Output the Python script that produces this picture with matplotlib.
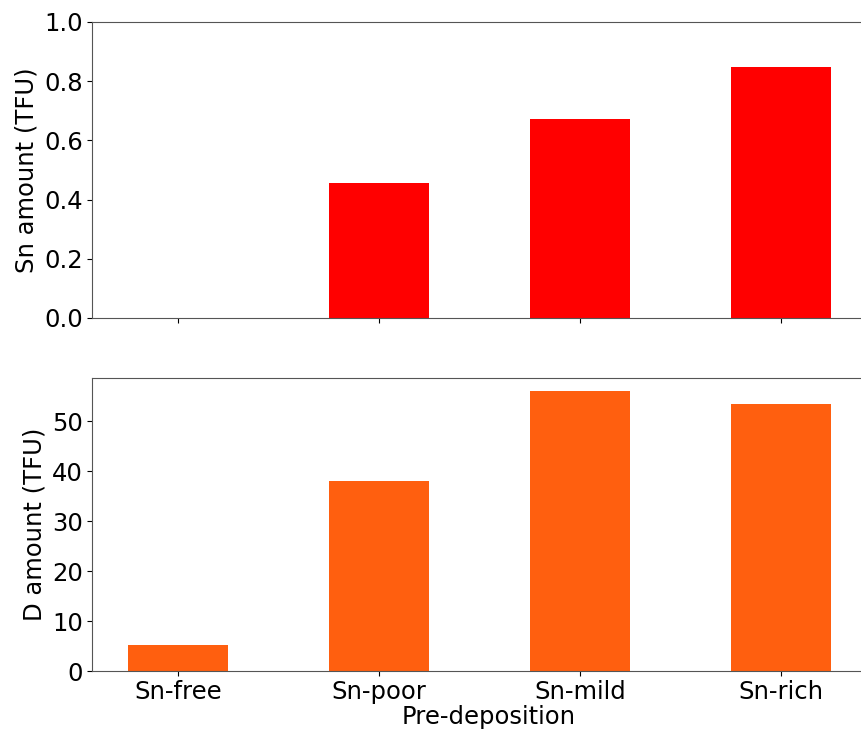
import matplotlib
matplotlib.use("Agg")
import matplotlib.pyplot as plt
import numpy as np

categories = ["Sn-free", "Sn-poor", "Sn-mild", "Sn-rich"]
sn_amount = [0.0, 0.456, 0.672, 0.848]
d_amount = [5.3, 38.0, 56.0, 53.4]

plt.rcParams['font.size'] = 17.5

fig = plt.figure(figsize=(8.62, 7.32), dpi=100)
ax1 = fig.add_axes([0.1067, 0.5656, 0.92, 0.4044])
ax2 = fig.add_axes([0.1067, 0.0833, 0.92, 0.4003], sharex=ax1)

x = np.arange(len(categories))

ax1.bar(x, sn_amount, width=0.5, color="#ff0000")
ax1.set_ylim(0, 1.0)
ax1.set_ylabel("Sn amount (TFU)", labelpad=4)
ax1.tick_params(labelbottom=False)

ax2.bar(x, d_amount, width=0.5, color="#ff5f0f")
ax2.set_ylim(0, 58.7)
ax2.set_ylabel("D amount (TFU)", labelpad=4)
ax2.set_xlabel("Pre-deposition", labelpad=1)
ax2.set_xticks(x)
ax2.set_xticklabels(categories)
ax2.set_xlim(-0.428, 3.517)

for ax in (ax1, ax2):
    for s in ax.spines.values():
        s.set_color("#555555")
    # the right edge of the plot is cut off in the original
    ax.spines['right'].set_visible(False)
    ax.tick_params(pad=3)

fig.savefig("out.png", dpi=100)
